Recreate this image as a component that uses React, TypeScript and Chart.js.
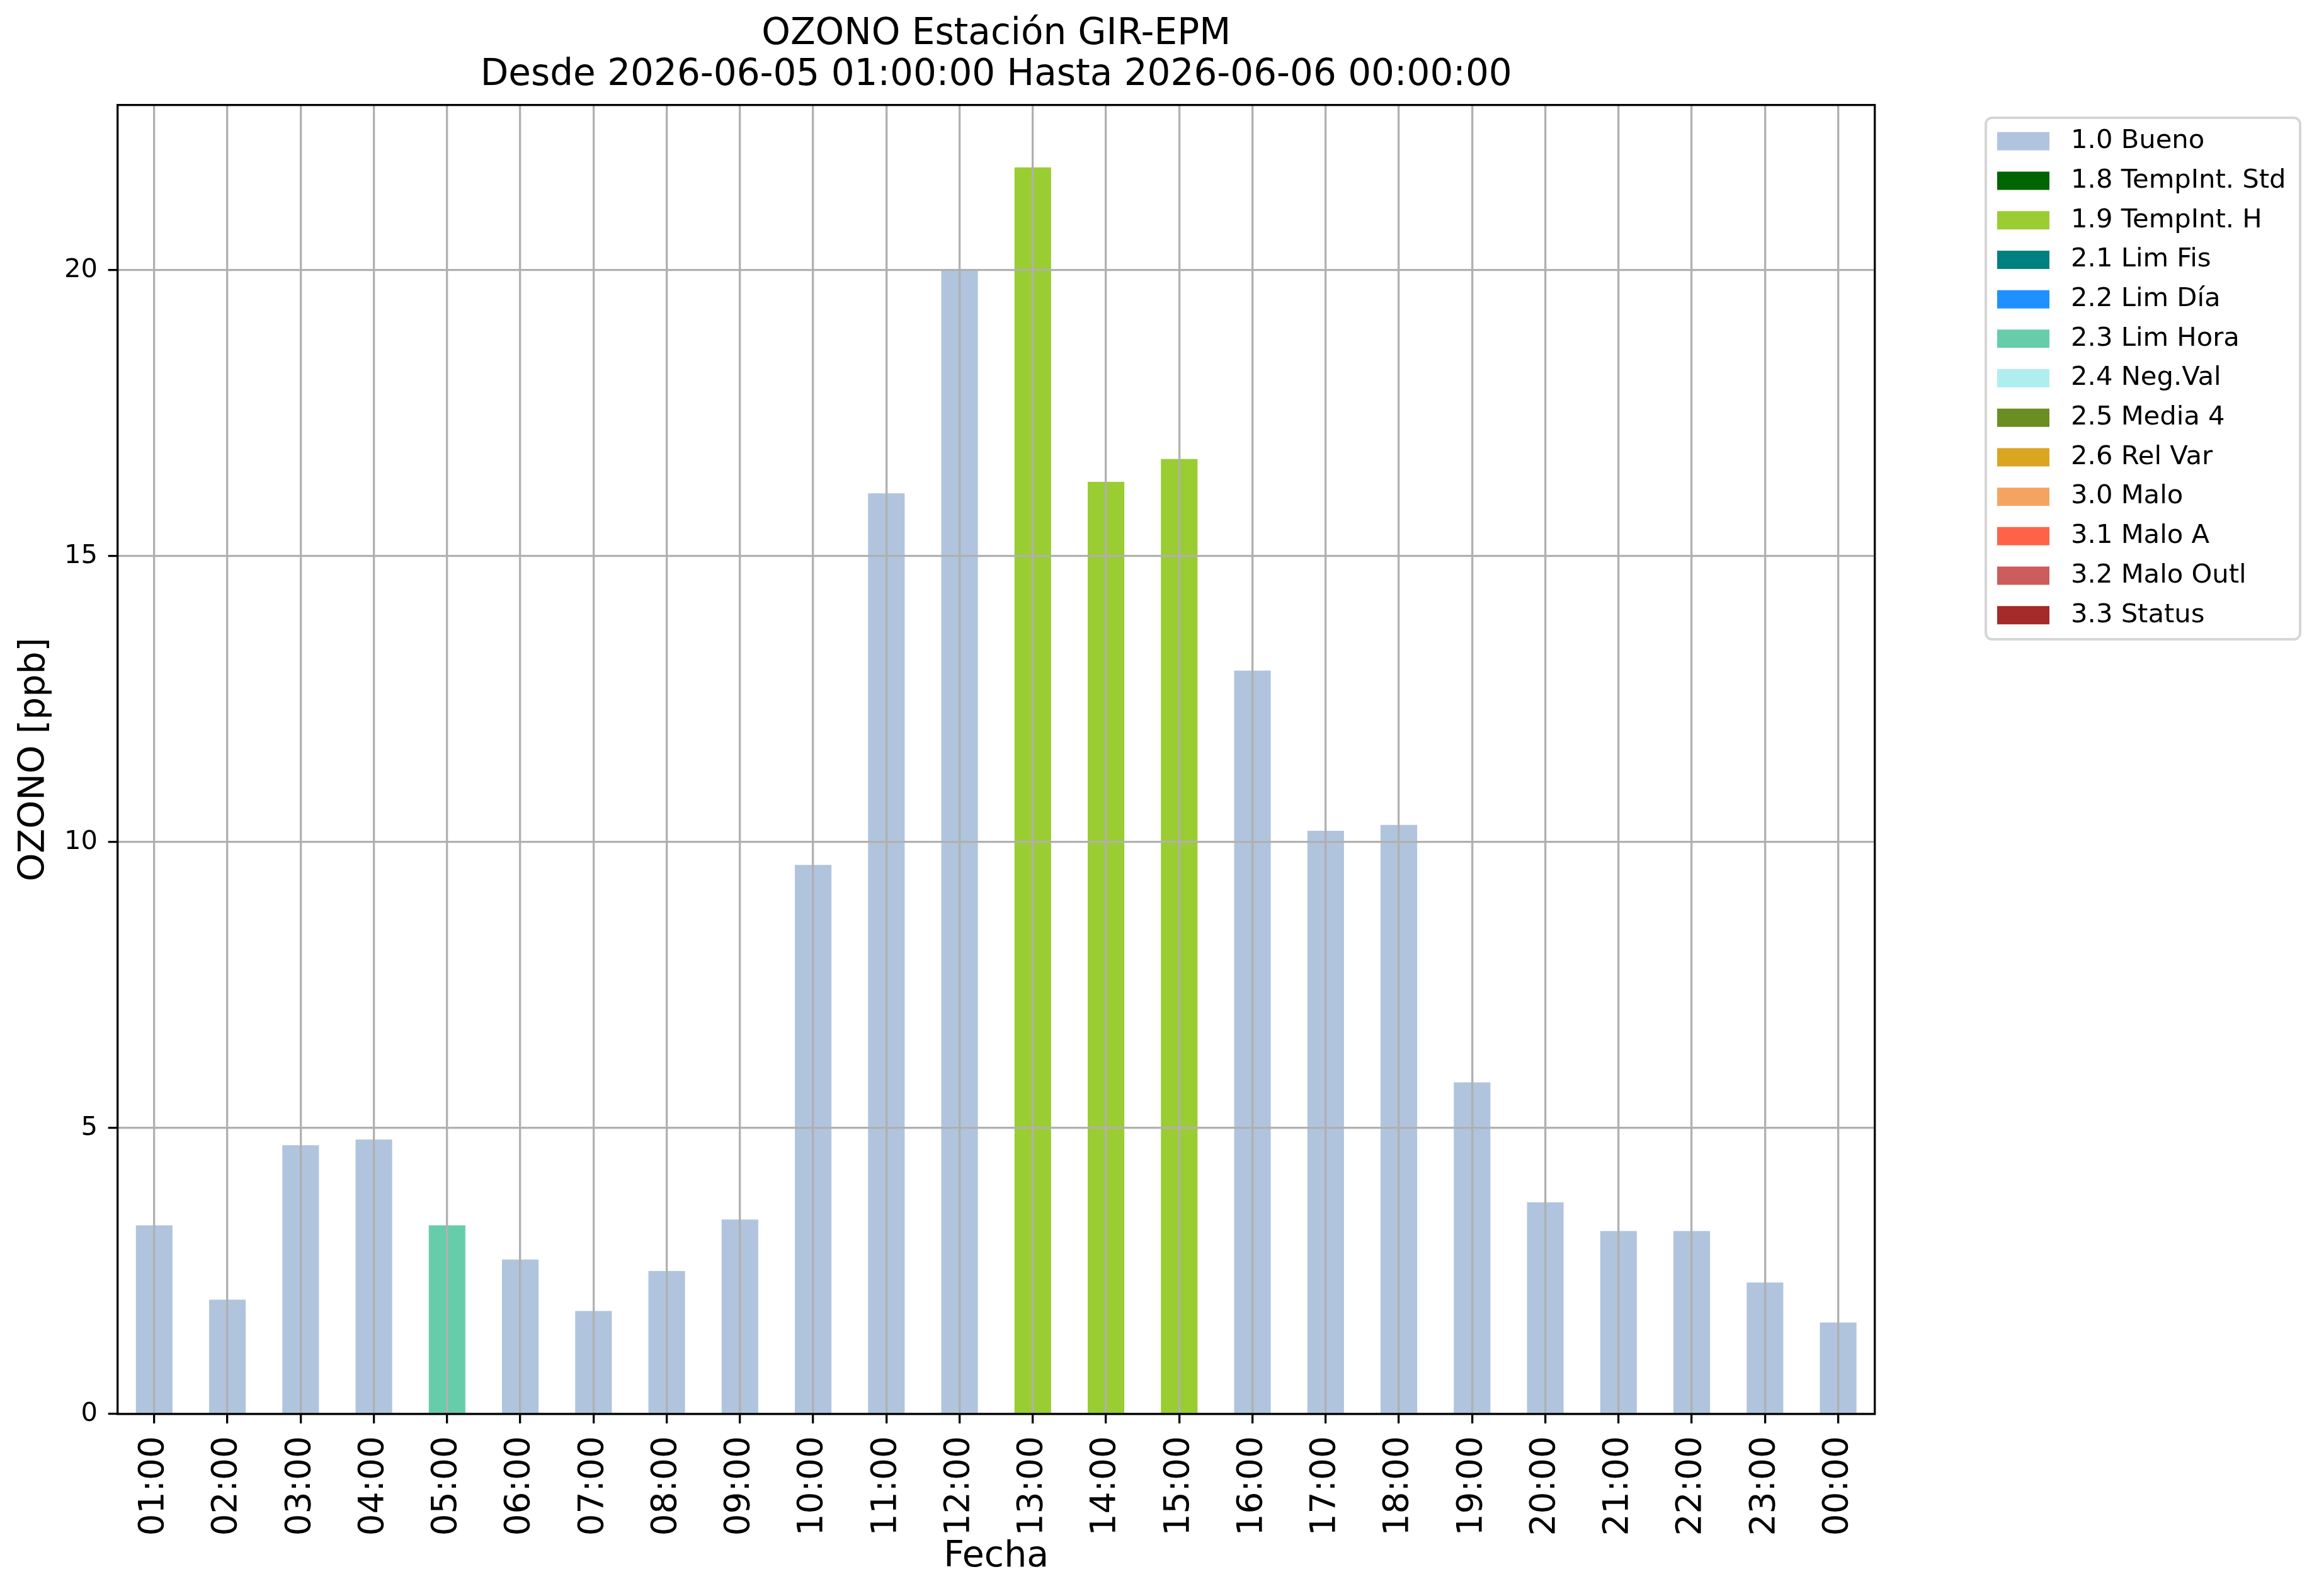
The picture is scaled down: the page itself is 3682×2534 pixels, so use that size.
import React, { useEffect, useRef } from 'react';
import { Chart, registerables } from 'chart.js';

Chart.register(...registerables);

// ---- data ----
const hours = [
  '01:00', '02:00', '03:00', '04:00', '05:00', '06:00', '07:00', '08:00',
  '09:00', '10:00', '11:00', '12:00', '13:00', '14:00', '15:00', '16:00',
  '17:00', '18:00', '19:00', '20:00', '21:00', '22:00', '23:00', '00:00',
];
const ozone = [
  3.3, 2.0, 4.7, 4.8, 3.3, 2.7, 1.8, 2.5, 3.4, 9.6, 16.1, 20.0,
  21.8, 16.3, 16.7, 13.0, 10.2, 10.3, 5.8, 3.7, 3.2, 3.2, 2.3, 1.6,
];
const hourFlags = [
  '1.0', '1.0', '1.0', '1.0', '2.3', '1.0', '1.0', '1.0', '1.0', '1.0', '1.0', '1.0',
  '1.9', '1.9', '1.9', '1.0', '1.0', '1.0', '1.0', '1.0', '1.0', '1.0', '1.0', '1.0',
];
const flagCodes = ['1.0', '1.8', '1.9', '2.1', '2.2', '2.3', '2.4', '2.5', '2.6', '3.0', '3.1', '3.2', '3.3'];
const flagNames = [
  'Bueno', 'TempInt. Std', 'TempInt. H', 'Lim Fis', 'Lim Día', 'Lim Hora', 'Neg.Val',
  'Media 4', 'Rel Var', 'Malo', 'Malo A', 'Malo Outl', 'Status',
];
const flagColors = [
  '#B0C4DE', '#006400', '#9ACD32', '#008080', '#1E90FF', '#66CDAA', '#AFEEEE',
  '#6B8E23', '#DAA520', '#F4A460', '#FF6347', '#CD5C5C', '#A52A2A',
];
const yTickStep = 5;
const titleLines = ['OZONO Estación GIR-EPM', 'Desde 2026-06-05 01:00:00 Hasta 2026-06-06 00:00:00'];
const xTitle = 'Fecha';
const yTitle = 'OZONO [ppb]';

// ---- layout ----
const W = 3682;
const H = 2534;
const FAMILY = "'DejaVu Sans', 'Noto Sans', sans-serif";
const LINE = 3.3;
const GRID = '#b0b0b0';

export default function App() {
  const ref = useRef<HTMLCanvasElement | null>(null);

  useEffect(() => {
    document.body.style.margin = '0';
    const canvas = ref.current;
    if (!canvas) return;

    const datasets = flagCodes.map((code, k) => ({
      label: `${code} ${flagNames[k]}`,
      data: ozone.map((v, i) => (hourFlags[i] === code ? v : null)),
      backgroundColor: flagColors[k],
      borderWidth: 0,
      barPercentage: 0.5,
      categoryPercentage: 1.0,
    }));

    const yMax = Math.max(...ozone) * 1.05;

    const mplPlugin = {
      id: 'mplFrame',
      afterLayout(chart: any) {
        const lg = chart.legend;
        if (lg) {
          lg.left = 3150;
          lg.right = 3150 + 485;
          lg.top = 182.5;
        }
      },
      afterDraw(chart: any) {
        const { ctx, chartArea: a } = chart;
        ctx.save();
        ctx.strokeStyle = '#000';
        ctx.lineWidth = LINE;
        ctx.strokeRect(a.left, a.top, a.right - a.left, a.bottom - a.top);
        const lg = chart.legend;
        if (lg) {
          ctx.strokeStyle = '#d6d6d6';
          ctx.lineWidth = 4;
          ctx.beginPath();
          (ctx as any).roundRect(lg.left + 3, lg.top + 4.5, 499, 828, 10);
          ctx.stroke();
        }
        ctx.restore();
      },
    };

    const defaultLabels = (Chart as any).defaults.plugins.legend.labels.generateLabels;

    const chart = new Chart(canvas, {
      type: 'bar',
      data: { labels: hours, datasets },
      plugins: [mplPlugin],
      options: {
        animation: false,
        responsive: false,
        devicePixelRatio: 1,
        events: [],
        layout: { padding: { left: 0, top: 0, bottom: 0, right: 405.3 } },
        plugins: {
          tooltip: { enabled: false },
          title: {
            display: true,
            text: titleLines,
            color: '#000',
            fullSize: false,
            font: { family: FAMILY, size: 58, weight: 'normal', lineHeight: 1.1207 },
            padding: { top: 22.5, bottom: 14.2 },
          },
          legend: {
            display: true,
            position: 'right',
            align: 'start',
            fullSize: false,
            maxWidth: 300,
            labels: {
              boxWidth: 83,
              boxHeight: 29,
              padding: 21,
              color: '#000',
              font: { family: FAMILY, size: 41.7 },
              generateLabels: (c: any) =>
                defaultLabels(c).map((item: any) => ({ ...item, text: ' ' + item.text })),
            },
          },
        },
        scales: {
          x: {
            type: 'category',
            stacked: true,
            offset: true,
            afterFit: (s: any) => { s.height = 289; },
            ticks: {
              autoSkip: false,
              maxRotation: 90,
              minRotation: 90,
              color: '#000',
              padding: 20,
              font: { family: FAMILY, size: 55 },
            },
            grid: {
              offset: false,
              color: GRID,
              lineWidth: LINE,
              tickColor: '#000',
              tickLength: 15,
              tickWidth: LINE,
              z: 1,
            },
            border: { display: false },
            title: {
              display: true,
              text: xTitle,
              color: '#000',
              font: { family: FAMILY, size: 57 },
              padding: { top: 0, bottom: 27.8 },
            },
          },
          y: {
            type: 'linear',
            stacked: true,
            min: 0,
            max: yMax,
            afterFit: (s: any) => { s.width = 186.7; },
            afterBuildTicks: (s: any) => {
              s.ticks = s.ticks.filter((t: any) => Math.abs(t.value % yTickStep) < 1e-9);
            },
            ticks: {
              stepSize: yTickStep,
              color: '#000',
              padding: 16.7,
              font: { family: FAMILY, size: 41.7 },
            },
            grid: {
              color: GRID,
              lineWidth: LINE,
              tickColor: '#000',
              tickLength: 15,
              tickWidth: LINE,
              z: 1,
            },
            border: { display: false },
            title: {
              display: true,
              text: yTitle,
              color: '#000',
              font: { family: FAMILY, size: 57 },
              padding: { top: 21.1, bottom: 0 },
            },
          },
        },
      } as any,
    });

    return () => { chart.destroy(); };
  }, []);

  return (
    <canvas
      ref={ref}
      width={W}
      height={H}
      style={{ display: 'block', width: `${W}px`, height: `${H}px` }}
    />
  );
}
